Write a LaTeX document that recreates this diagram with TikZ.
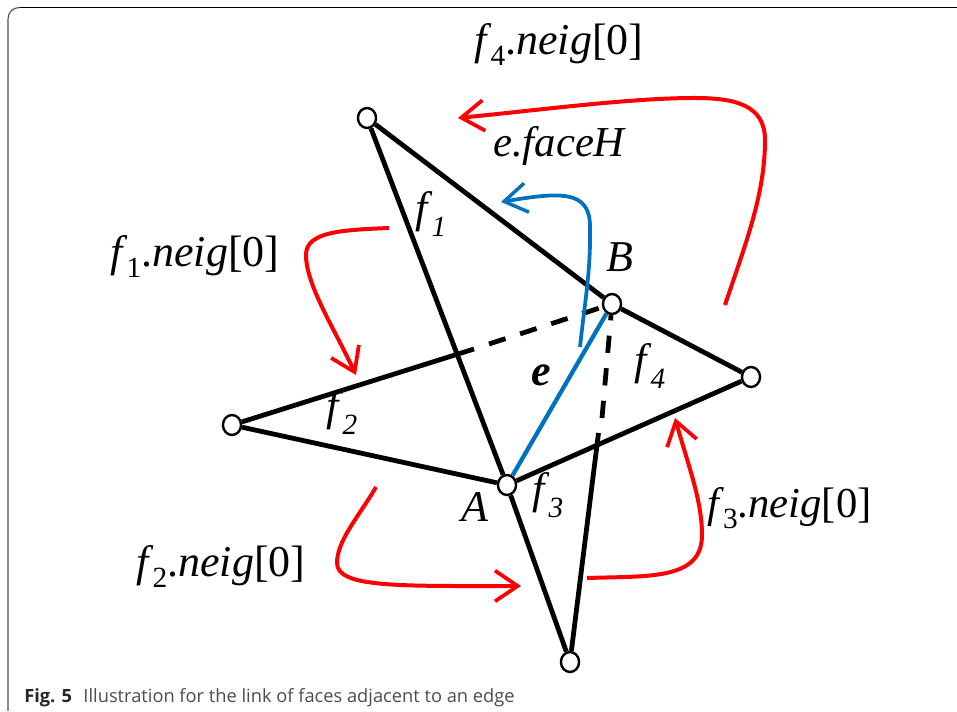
\documentclass[tikz,border=0pt]{standalone}
\usepackage{fontspec}
\setmainfont{Liberation Serif}
\newfontfamily\capfont{Open Sans}
\usetikzlibrary{arrows.meta,shapes.geometric}
\definecolor{figblue}{HTML}{0070C0}
\newcommand{\fsb}[1]{\textit{f}\kern-0.02em\raisebox{-0.25em}{\fontsize{22pt}{22pt}\selectfont #1}}
\newcommand{\fsi}[1]{\textit{f}\kern-0.02em\raisebox{-0.3em}{\fontsize{22pt}{22pt}\selectfont\itshape #1}}
\tikzset{
  x=0.75pt,y=-0.75pt,
  vertex/.style={ellipse,draw=black,fill=white,line width=1.8pt,minimum width=13.6pt,minimum height=15pt,inner sep=0pt},
  faceline/.style={draw=black,line width=3.6pt},
  dashline/.style={draw=black,line width=3.6pt,dash pattern=on 13pt off 11.5pt},
  eline/.style={draw=figblue,line width=3.2pt},
  redarrow/.style={draw=red,line width=3pt,-{Straight Barb[length=17pt,width=23pt,line width=2.8pt]}},
  bluearrow/.style={draw=figblue,line width=2.8pt,-{Straight Barb[length=17pt,width=22pt,line width=2.6pt]}},
  lbl/.style={anchor=base west,inner sep=0pt,font=\fontsize{33pt}{33pt}\selectfont},
}
\begin{document}
\begin{tikzpicture}
\useasboundingbox (0,0) rectangle (957,712);
% frame
\coordinate (ftop) at (957,7.5);
\coordinate (fleft) at (8,711);
\draw[black,line width=0.8pt] (ftop) -- (20,7.5);
\draw[black!70,line width=0.8pt] (20,7.5) .. controls (13,7.5) and (8,12) .. (8,19) -- (fleft);
% vertices
\node[vertex] (T) at (367,118) {};
\node[vertex] (B) at (612,304) {};
\node[vertex] (R) at (751,377) {};
\node[vertex] (L) at (232,425) {};
\node[vertex] (A) at (507,485) {};
\node[vertex] (D) at (570,662) {};
\coordinate (ls) at (474,349);
\coordinate (ld) at (489,344);
\coordinate (ds) at (598.5,433);
\coordinate (dd) at (602,418);
% edges
\draw[faceline] (T) -- (A);
\draw[faceline] (T) -- (B);
\draw[faceline] (B) -- (R);
\draw[faceline] (R) -- (A);
\draw[faceline] (L) -- (A);
\draw[faceline] (L) -- (ls);
\draw[dashline] (ld) -- (B);
\draw[faceline] (A) -- (D);
\draw[faceline] (D) -- (ds);
\draw[dashline] (dd) -- (B);
\draw[eline] (A) -- (B);
% curved arrows
\coordinate (r1s) at (389,228);
\coordinate (r1e) at (356,375);
\draw[redarrow] (r1s) .. controls (340,230) and (306,232) .. (306,255) .. controls (306,285) and (335,330) .. (r1e);
\coordinate (r2s) at (376,487);
\coordinate (r2e) at (521,586);
\draw[redarrow] (r2s) .. controls (360,515) and (337,540) .. (337,563) .. controls (337,588) and (400,586) .. (r2e);
\coordinate (r3s) at (587,578);
\coordinate (r3e) at (675,418);
\draw[redarrow] (r3s) .. controls (650,576) and (702,580) .. (702,535) .. controls (702,500) and (688,465) .. (r3e);
\coordinate (r4s) at (725,305);
\coordinate (r4e) at (458,118);
\draw[redarrow] (r4s) .. controls (745,245) and (765,195) .. (765,140) .. controls (765,105) and (735,98) .. (695,98) .. controls (630,98) and (540,110) .. (r4e);
\coordinate (bs) at (580,347);
\coordinate (be) at (501,202);
\draw[bluearrow] (bs) .. controls (585,300) and (591,270) .. (590,225) .. controls (589,190) and (560,192) .. (be);
% labels
\node[lbl] (n4) at (474,55) {\fsb{4}.\textit{neig}[0]};
\node[lbl] (n1) at (110,267) {\fsb{1}.\textit{neig}[0]};
\node[lbl] (n2) at (136,577) {\fsb{2}.\textit{neig}[0]};
\node[lbl,font=\fontsize{32pt}{32pt}\selectfont] (n3) at (707,518) {\fsb{3}.\textit{neig}[0]};
\node[lbl,font=\fontsize{32pt}{32pt}\selectfont] (fh) at (493,157) {\textit{e.faceH}};
\node[lbl] (lf1) at (415,223) {\fsi{1}};
\node[lbl] (lf2) at (326,421) {\fsi{2}};
\node[lbl] (lf3) at (532,504) {\fsi{3}};
\node[lbl] (lf4) at (634,375) {\fsi{4}};
\node[lbl] (lB) at (606,272) {\textit{B}};
\node[lbl] (lA) at (461,522) {\textit{A}};
\node[lbl] (le) at (531,386) {\textbf{\textit{e}}};
\node[anchor=base west,inner sep=0pt,font=\capfont\fontsize{13.7pt}{13.7pt}\selectfont,text=black!70] (cap) at (24,702) {\textcolor{black!85}{\textbf{Fig. 5}}\hspace{8.5pt}Illustration for the link of faces adjacent to an edge};
\end{tikzpicture}
\end{document}
